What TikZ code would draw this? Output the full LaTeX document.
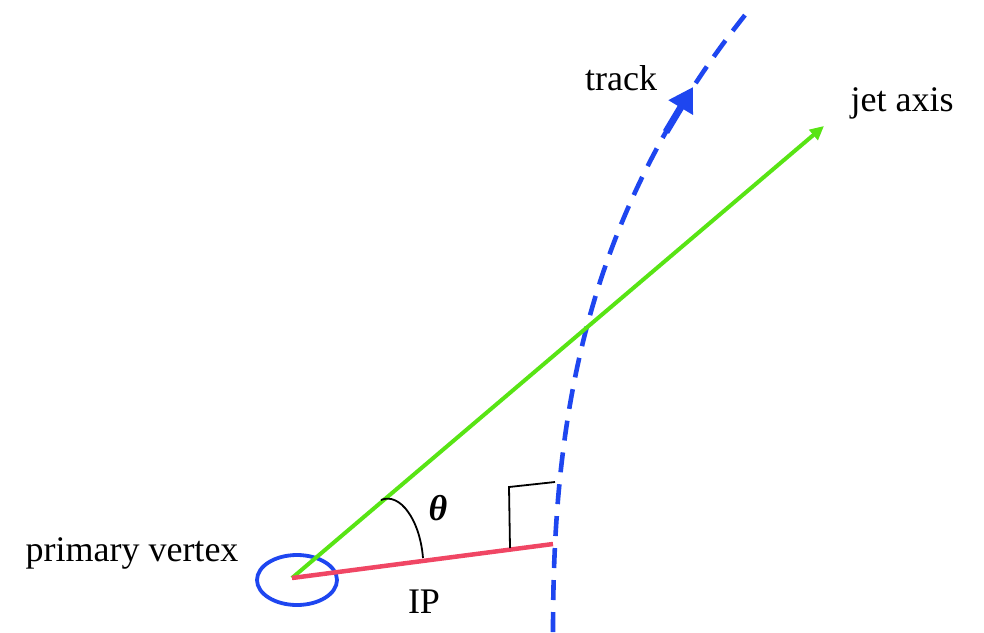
\documentclass[tikz,border=0pt]{standalone}
\usepackage{fontspec}
\setmainfont{Liberation Serif}
\usetikzlibrary{arrows.meta}
\definecolor{jetgreen}{RGB}{88,228,20}
\definecolor{iptrack}{RGB}{240,70,100}
\definecolor{trackblue}{RGB}{30,70,240}
\tikzset{
  lbl/.style={font=\fontsize{36}{40}\selectfont, inner sep=0pt},
  trackline/.style={trackblue, line width=4.6pt, dash pattern=on 20pt off 12pt},
  jetline/.style={jetgreen, line width=4pt},
  ipline/.style={iptrack, line width=4.5pt},
  thinblack/.style={black, line width=1.8pt}
}
\begin{document}
\begin{tikzpicture}[x=1pt,y=-1pt]
\useasboundingbox (0,0) rectangle (984,632);
% coordinates
\coordinate (pv) at (292,578);
\coordinate (jetend) at (824,126);
\coordinate (ipend) at (553,544);
\coordinate (ra1) at (510,548);
\coordinate (ra2) at (509,487);
\coordinate (ra3) at (555,482);
\coordinate (arrtail) at (666,132);
\coordinate (arrtip) at (693,87);
\coordinate (ang1) at (381,500);
\coordinate (ang2) at (423,558);
% vertex ellipse
\draw[trackblue, line width=3.8pt] (297,580) ellipse [x radius=40, y radius=25];
% track
\draw[trackline] plot[domain=0:6.17, samples=80, variable=\v]
  ({553+2.25*\v*\v+0.453*\v*\v*\v}, {632-100*\v});
\draw[trackblue, line width=7pt, -{Triangle[length=24pt,width=27pt]}] (arrtail) -- (arrtip);
% jet axis
\draw[jetline, -{Triangle[length=14pt,width=13pt]}] (pv) -- (jetend);
% IP
\draw[ipline] (pv) -- (ipend);
% angle
\draw[thinblack] (ang1) .. controls (400,492) and (420,520) .. (ang2);
% right angle
\draw[thinblack] (ra1) -- (ra2) -- (ra3);
% labels
\node[lbl] (ltrack) at (621,78) {track};
\node[lbl] (ljet) at (902,103) {jet axis};
\node[lbl] (lpv) at (132,553) {primary vertex};
\node[lbl] (lip) at (424,602) {IP};
\node[lbl] (ltheta) at (438,508) {\textbf{\textit{θ}}};
\end{tikzpicture}
\end{document}
